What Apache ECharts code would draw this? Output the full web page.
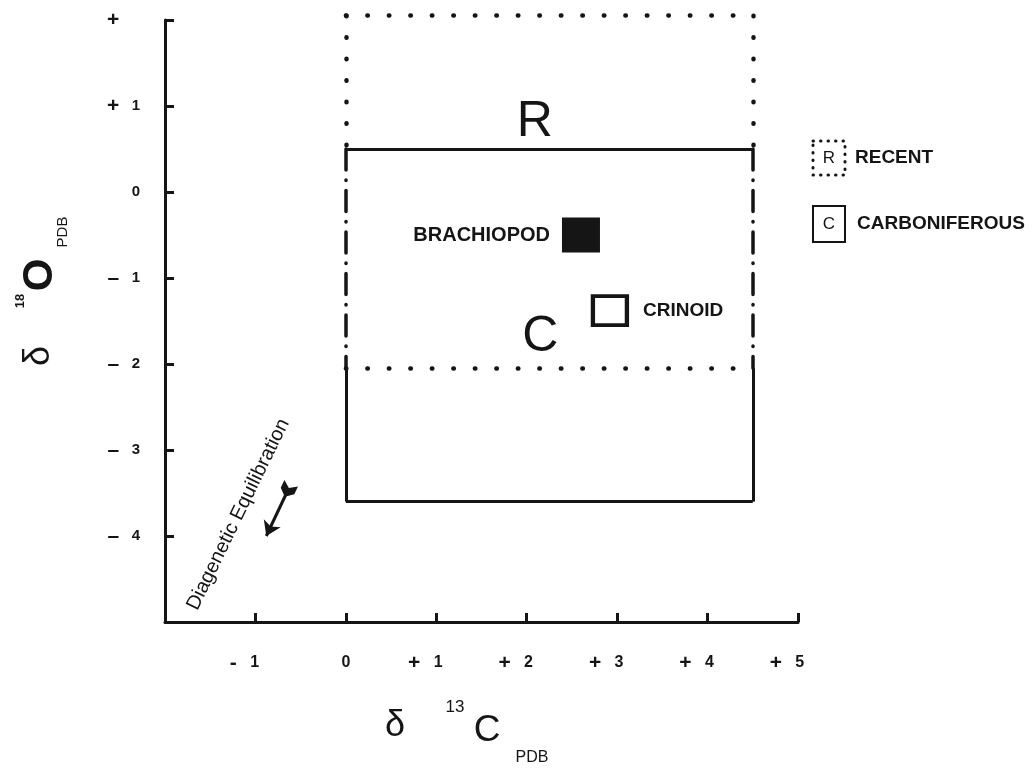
<!DOCTYPE html>
<html><head><meta charset="utf-8">
<script src="https://cdn.jsdelivr.net/npm/echarts@6/dist/echarts.min.js"></script>
<style>html,body{margin:0;padding:0;background:#fff}#c{width:1035px;height:772px}</style>
</head><body><div id="c"></div>
<script>
// ---- data ----
const xTickValues = [-2, -1, 0, 1, 2, 3, 4, 5];
const xTickLabels = ['', '- 1', '0', '+ 1', '+ 2', '+ 3', '+ 4', '+ 5'];
const yTickValues = [-5, -4, -3, -2, -1, 0, 1, 2];
const yTickLabels = ['', '– 4', '– 3', '– 2', '– 1', '0', '+ 1', '+'];
const recentBox = [0, 4.5, -2.05, 2.05];      // xLeft, xRight, yBottom, yTop
const carbBox = [0, 4.5, -3.6, 0.5];
const sampleNames = ['BRACHIOPOD', 'CRINOID'];
const sampleX = [2.6, 2.92];
const sampleY = [-0.5, -1.38];
const boxLetters = ['R', 'C'];
const letterX = [2.09, 2.15];
const letterY = [0.81, -1.69];
const noteText = 'Diagenetic Equilibration';
const notePos = [-1.19, -3.75];
const arrowFrom = [-0.64, -3.465];
const arrowTo = [-0.88, -4.0];
const legendLetters = ['R', 'C'];
const legendNames = ['RECENT', 'CARBONIFEROUS'];

// ---- build ----
const FONT = '"Liberation Sans", Arial, Helvetica, sans-serif';
const INK = '#151515';
const [rx0, rx1, ry0, ry1] = recentBox;
const [cx0, cx1, cy0, cy1] = carbBox;

const dottedSegs = [
  [[rx0, ry1], [rx1, ry1]],
  [[rx0, ry1], [rx0, cy1]],
  [[rx1, ry1], [rx1, cy1]],
  [[rx0, ry0], [rx1, ry0]]
];
const dashDotSegs = [
  [[cx0, cy1], [cx0, ry0]],
  [[cx1, cy1], [cx1, ry0]]
];
const solidSegs = [
  [[cx0, cy1], [cx1, cy1]],
  [[cx0, ry0], [cx0, cy0]],
  [[cx1, ry0], [cx1, cy0]],
  [[cx0, cy0], [cx1, cy0]]
];

// split "sign digit" labels into a large sign and the digit
function tickRich(t, withPad) {
  if (!t) return '';
  if (t === '0') return '{z|0}';
  const sign = t.charAt(0);
  const rest = t.slice(1).trim();
  return '{g|' + sign + '}{' + (withPad ? 'p' : 'd') + '|' + (rest ? '   ' + rest : '     ') + '}';
}
const LH = 22;

const sampleStyles = [
  {symbolSize: [38, 35], itemStyle: {color: INK, opacity: 1}, label: {position: 'left', distance: 12, fontSize: 20}},
  {symbolSize: [34, 29], itemStyle: {color: '#fff', borderColor: INK, borderWidth: 4, opacity: 1}, label: {position: 'right', distance: 14, fontSize: 19}}
];

const chart = echarts.init(document.getElementById('c'), null, {renderer: 'canvas'});
chart.setOption({
  backgroundColor: '#fff',
  animation: false,
  grid: {left: 165, top: 20, width: 633, height: 602},
  xAxis: {
    type: 'value', min: xTickValues[0], max: xTickValues[xTickValues.length - 1], interval: 1,
    axisLine: {onZero: false, lineStyle: {color: INK, width: 3}},
    axisTick: {inside: true, length: 9, lineStyle: {color: INK, width: 3}},
    splitLine: {show: false},
    axisLabel: {margin: 30, fontSize: 16, fontWeight: 'bold', color: INK, fontFamily: FONT, lineHeight: LH,
      formatter: v => tickRich(xTickLabels[xTickValues.indexOf(Math.round(v))], true),
      rich: {
        g: {fontSize: 21, fontWeight: 'bold', color: INK, fontFamily: FONT, lineHeight: LH},
        p: {fontSize: 16, fontWeight: 'bold', color: INK, fontFamily: FONT, lineHeight: LH, padding: [0, 22, 0, 0]},
        z: {fontSize: 16, fontWeight: 'bold', color: INK, fontFamily: FONT, lineHeight: LH}
      }
    }
  },
  yAxis: {
    type: 'value', min: yTickValues[0], max: yTickValues[yTickValues.length - 1], interval: 1,
    axisLine: {onZero: false, lineStyle: {color: INK, width: 3}},
    axisTick: {inside: true, length: 9, lineStyle: {color: INK, width: 3}},
    splitLine: {show: false},
    axisLabel: {margin: 25, fontSize: 15, fontWeight: 'bold', color: INK, fontFamily: FONT, lineHeight: LH,
      formatter: v => tickRich(yTickLabels[yTickValues.indexOf(Math.round(v))], false),
      rich: {
        g: {fontSize: 21, fontWeight: 'bold', color: INK, fontFamily: FONT, lineHeight: LH},
        d: {fontSize: 15, fontWeight: 'bold', color: INK, fontFamily: FONT, lineHeight: LH},
        z: {fontSize: 15, fontWeight: 'bold', color: INK, fontFamily: FONT, lineHeight: LH}
      }
    }
  },
  series: [
    {type: 'lines', coordinateSystem: 'cartesian2d', silent: true, clip: false,
      data: dottedSegs.map(c => ({coords: c})),
      lineStyle: {color: INK, width: 4.5, type: [0.5, 21], cap: 'round', opacity: 1}},
    {type: 'lines', coordinateSystem: 'cartesian2d', silent: true, clip: false,
      data: dashDotSegs.map(c => ({coords: c})),
      lineStyle: {color: INK, width: 3.5, type: [21, 10, 0.5, 10], cap: 'round', opacity: 1}},
    {type: 'lines', coordinateSystem: 'cartesian2d', silent: true, clip: false,
      data: solidSegs.map(c => ({coords: c})),
      lineStyle: {color: INK, width: 3, opacity: 1}},
    {type: 'lines', coordinateSystem: 'cartesian2d', silent: true, clip: false,
      symbol: ['path://M0,0 L5,5 L10,0 L10,8 L5,14 L0,8 Z', 'arrow'], symbolSize: [15, 14],
      data: [{coords: [arrowFrom, arrowTo]}],
      lineStyle: {color: INK, width: 3, opacity: 1}},
    {type: 'scatter', silent: true, symbol: 'rect', clip: false,
      itemStyle: {opacity: 1},
      data: sampleNames.map((n, i) => Object.assign({name: n, value: [sampleX[i], sampleY[i]]}, sampleStyles[i])),
      label: {show: true, formatter: '{b}', fontWeight: 'bold', color: INK, fontFamily: FONT}},
    {type: 'scatter', silent: true, symbolSize: 0, clip: false,
      itemStyle: {opacity: 1},
      data: boxLetters.map((n, i) => ({name: n, value: [letterX[i], letterY[i]]})),
      label: {show: true, position: 'inside', formatter: '{b}', fontSize: 50, color: INK, fontFamily: FONT}},
    {type: 'scatter', silent: true, symbolSize: 0, clip: false,
      itemStyle: {opacity: 1},
      data: [{name: noteText, value: notePos}],
      label: {show: true, position: 'inside', rotate: 64, formatter: '{b}', fontSize: 20, color: INK, fontFamily: FONT}}
  ],
  graphic: [
    // y axis title
    {type: 'text', x: 39, y: 356, rotation: Math.PI / 2, style: {text: 'δ', font: '36px ' + FONT, fill: INK, align: 'center', verticalAlign: 'middle'}},
    {type: 'text', x: 20, y: 301, rotation: Math.PI / 2, style: {text: '18', font: 'bold 13px ' + FONT, fill: INK, align: 'center', verticalAlign: 'middle'}},
    {type: 'text', x: 40, y: 275, rotation: Math.PI / 2, style: {text: 'O', font: 'bold 42px ' + FONT, fill: INK, align: 'center', verticalAlign: 'middle'}},
    {type: 'text', x: 63, y: 232, rotation: Math.PI / 2, style: {text: 'PDB', font: '15px ' + FONT, fill: INK, align: 'center', verticalAlign: 'middle'}},
    // x axis title
    {type: 'text', x: 395, y: 726, style: {text: 'δ', font: '36px ' + FONT, fill: INK, align: 'center', verticalAlign: 'middle'}},
    {type: 'text', x: 455, y: 707, style: {text: '13', font: '17px ' + FONT, fill: INK, align: 'center', verticalAlign: 'middle'}},
    {type: 'text', x: 487, y: 731, style: {text: 'C', font: '37px ' + FONT, fill: INK, align: 'center', verticalAlign: 'middle'}},
    {type: 'text', x: 532, y: 758, style: {text: 'PDB', font: '16px ' + FONT, fill: INK, align: 'center', verticalAlign: 'middle'}},
    // legend
    {type: 'rect', shape: {x: 813, y: 141, width: 32, height: 34}, style: {fill: 'none', stroke: INK, lineWidth: 3, lineDash: [0.5, 7], lineCap: 'round'}},
    {type: 'text', x: 829, y: 158, style: {text: legendLetters[0], font: '17px ' + FONT, fill: INK, align: 'center', verticalAlign: 'middle'}},
    {type: 'text', x: 855, y: 158, style: {text: legendNames[0], font: 'bold 19px ' + FONT, fill: INK, align: 'left', verticalAlign: 'middle'}},
    {type: 'rect', shape: {x: 813, y: 206, width: 32, height: 36}, style: {fill: 'none', stroke: INK, lineWidth: 2}},
    {type: 'text', x: 829, y: 224, style: {text: legendLetters[1], font: '17px ' + FONT, fill: INK, align: 'center', verticalAlign: 'middle'}},
    {type: 'text', x: 857, y: 224, style: {text: legendNames[1], font: 'bold 19px ' + FONT, fill: INK, align: 'left', verticalAlign: 'middle'}}
  ]
});
</script>
</body></html>
